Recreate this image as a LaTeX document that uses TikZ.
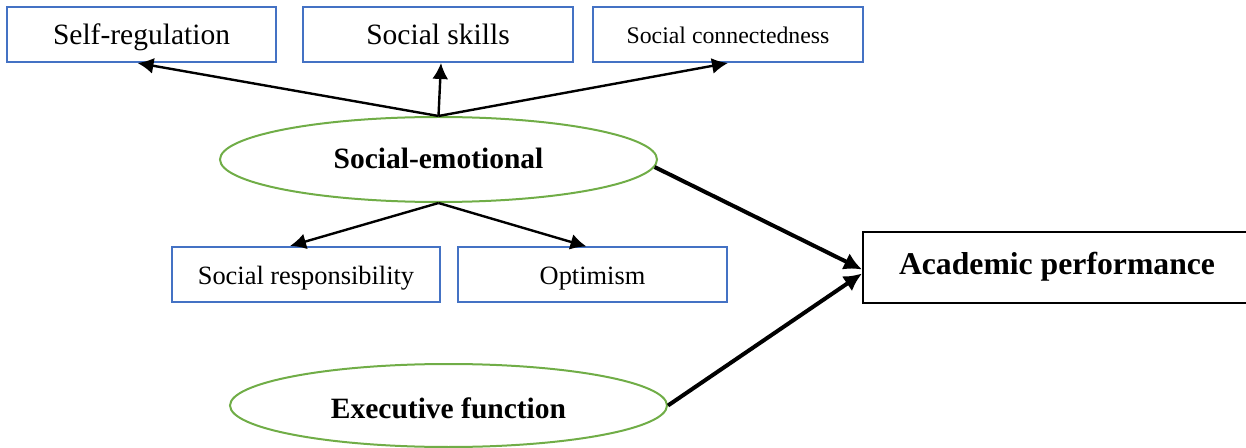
\documentclass[tikz,border=0pt]{standalone}
\usepackage{fontspec}
\setmainfont{Liberation Serif}
\usetikzlibrary{shapes.geometric,arrows.meta}
\definecolor{boxblue}{HTML}{4472C4}
\definecolor{ellgreen}{HTML}{70AD47}
\tikzset{
  bluebox/.style={draw=boxblue,line width=1pt,rectangle,minimum height=27.5pt,inner sep=0pt,text height=10.5pt,text depth=0pt},
  greenell/.style={draw=ellgreen,line width=1pt,ellipse,inner sep=0pt,text depth=0pt,font=\fontsize{14.75}{17}\selectfont\bfseries},
  thinarr/.style={line width=1.2pt,-{Latex[length=8pt,width=8pt]}},
  thickarr/.style={line width=2pt,-{Latex[length=9pt,width=9pt]}},
  bigfont/.style={font=\fontsize{14.75}{17}\selectfont},
  midfont/.style={font=\fontsize{13.2}{15}\selectfont},
  smallfont/.style={font=\fontsize{11.9}{14}\selectfont}
}
\begin{document}
\begin{tikzpicture}[x=0.5pt,y=-0.5pt]
\useasboundingbox (0,0) rectangle (1246,448);
\node[bluebox,bigfont,minimum width=134.5pt] (sr) at (141.5,34.5) {Self-regulation};
\node[bluebox,bigfont,minimum width=135pt] (ss) at (438,34.5) {Social skills};
\node[bluebox,smallfont,minimum width=135pt,text height=9.5pt] (sc) at (728,34.5) {Social connectedness};
\node[greenell,minimum width=218.5pt,minimum height=42.5pt,text height=9.5pt] (se) at (438.5,159.5) {Social-emotional};
\node[bluebox,midfont,minimum width=134pt] (resp) at (306,274.5) {Social responsibility};
\node[bluebox,midfont,minimum width=134.5pt,text height=10pt] (opt) at (592.5,275) {Optimism};
\node[draw=black,line width=1pt,rectangle,inner sep=0pt,minimum width=194pt,minimum height=35.5pt,text height=6.8pt,text depth=0pt,font=\fontsize{15.85}{18}\selectfont\bfseries] (ap) at (1057,267.5) {Academic performance};
\node[greenell,minimum width=218.5pt,minimum height=41.5pt,text height=12.5pt] (ef) at (448.5,405.5) {Executive function};

\draw[thinarr] (se.north) -- ([xshift=-2pt]sr.south);
\draw[thinarr] (se.north) -- ([xshift=1.5pt]ss.south);
\draw[thinarr] (se.north) -- (sc.south);
\draw[thinarr] (se.south) -- ([xshift=-8pt]resp.north);
\draw[thinarr] (se.south) -- ([xshift=-3pt]opt.north);
\draw[thickarr] (se.-2) -- ([yshift=-1pt]ap.west);
\draw[thickarr] (ef.east) -- ([yshift=-3pt]ap.west);
\end{tikzpicture}
\end{document}
